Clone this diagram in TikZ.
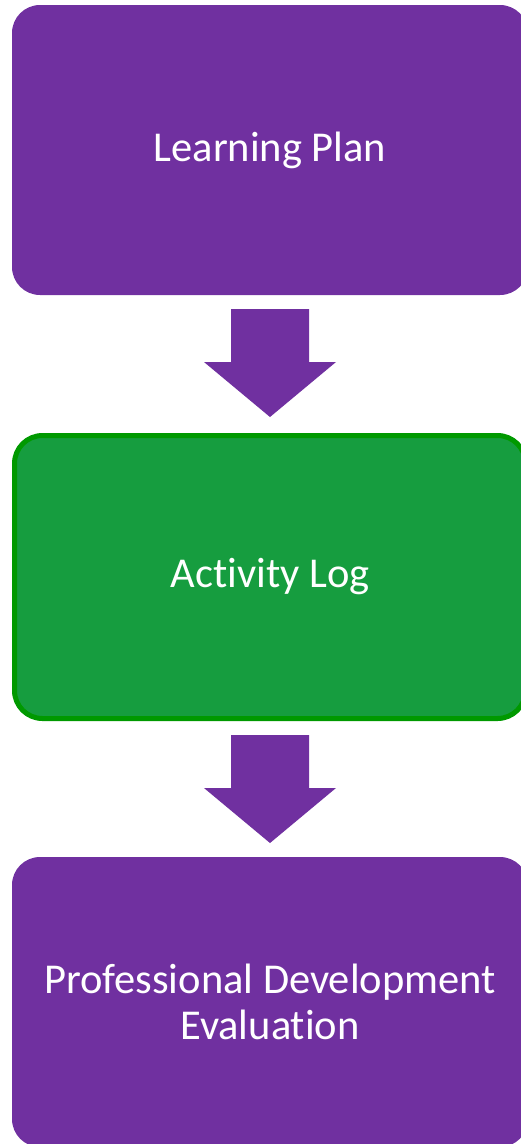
\documentclass[tikz,border=0pt]{standalone}
\usepackage{fontspec}
\setmainfont[Ligatures=NoCommon]{Carlito}
\definecolor{cpurple}{RGB}{112,48,160}
\definecolor{cgreenfill}{RGB}{22,157,63}
\definecolor{cgreenline}{RGB}{0,153,0}
\begin{document}
\begin{tikzpicture}[x=1pt,y=-1pt,
  box/.style={rounded corners=28pt, text=white, align=center, inner sep=0pt,
    font=\fontsize{42.5}{46}\selectfont},
  purplebox/.style={box, fill=cpurple, minimum width=516pt, minimum height=290pt},
  greenbox/.style={box, fill=cgreenfill, draw=cgreenline, line width=5pt,
    minimum width=511pt, minimum height=283pt},
  blockarrow/.style={fill=cpurple}]
\useasboundingbox (0,0) rectangle (520,1144);
\node[purplebox] (b1) at (270,150) {Learning Plan};
\node[greenbox] (b2) at (270,577) {Activity Log};
\node[purplebox] (b3) at (270,1002) {Professional Development\\Evaluation};
\fill[blockarrow] (231,309) -- (309,309) -- (309,362) -- (336,362) -- (270,417)
  -- (204,362) -- (231,362) -- cycle;
\fill[blockarrow] (231,735) -- (309,735) -- (309,788) -- (336,788) -- (270,843)
  -- (204,788) -- (231,788) -- cycle;
\end{tikzpicture}
\end{document}
